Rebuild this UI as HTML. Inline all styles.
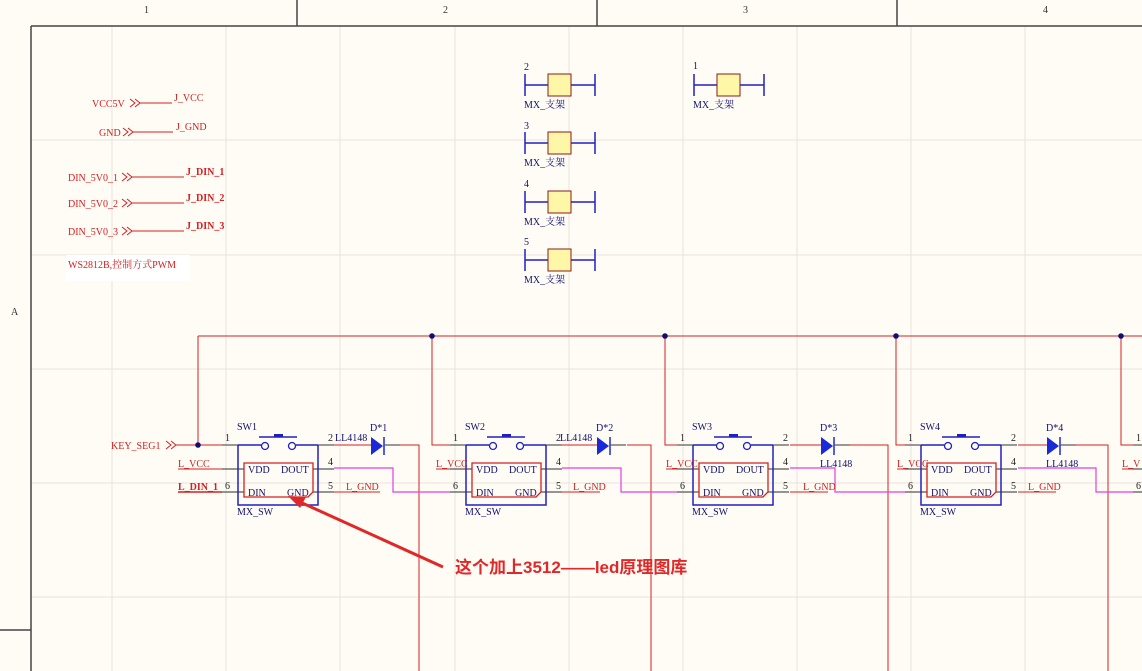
<!DOCTYPE html>
<html><head><meta charset="utf-8"><style>
html,body{margin:0;padding:0;background:#fffcf6;}
svg{display:block;}
text{font-family:"Liberation Serif","Noto Serif CJK SC","Noto Sans CJK SC",serif;font-size:10px;}
.r{fill:#d42020;}
.b{fill:#101070;}
</style></head><body>
<svg width="1142" height="671" viewBox="0 0 1142 671" xmlns="http://www.w3.org/2000/svg">
<rect width="1142" height="671" fill="#fffcf6"/>
<!-- grid -->
<g stroke="#e8e4dc" stroke-width="1">
<line x1="112" y1="26" x2="112" y2="671"/><line x1="226" y1="26" x2="226" y2="671"/><line x1="340" y1="26" x2="340" y2="671"/><line x1="455" y1="26" x2="455" y2="671"/><line x1="569" y1="26" x2="569" y2="671"/><line x1="683" y1="26" x2="683" y2="671"/><line x1="797" y1="26" x2="797" y2="671"/><line x1="911" y1="26" x2="911" y2="671"/><line x1="1025" y1="26" x2="1025" y2="671"/>
<line x1="31" y1="140" x2="1142" y2="140"/><line x1="31" y1="255" x2="1142" y2="255"/><line x1="31" y1="369" x2="1142" y2="369"/><line x1="31" y1="483" x2="1142" y2="483"/><line x1="31" y1="597" x2="1142" y2="597"/>
</g>
<!-- frame -->
<g stroke="#444" stroke-width="1.5" fill="none">
<line x1="31" y1="26" x2="1142" y2="26"/><line x1="31" y1="26" x2="31" y2="671"/><line x1="0" y1="630" x2="31" y2="630"/>
<line x1="297" y1="0" x2="297" y2="26"/><line x1="597" y1="0" x2="597" y2="26"/><line x1="897" y1="0" x2="897" y2="26"/>
</g>
<g fill="#333"><text x="144" y="13">1</text><text x="443" y="13">2</text><text x="743" y="13">3</text><text x="1043" y="13">4</text><text x="11" y="315">A</text></g>

<!-- left net labels -->
<g stroke="#d42020" fill="none" stroke-width="1">
<path d="M130,99 l5,4 l-5,4 M135,99 l5,4 l-5,4"/><line x1="140" y1="103" x2="172" y2="103"/>
<path d="M123,128 l5,4 l-5,4 M128,128 l5,4 l-5,4"/><line x1="133" y1="132" x2="173" y2="132"/>
<path d="M122,173 l5,4 l-5,4 M127,173 l5,4 l-5,4"/><line x1="132" y1="177" x2="184" y2="177"/>
<path d="M122,199 l5,4 l-5,4 M127,199 l5,4 l-5,4"/><line x1="132" y1="203" x2="184" y2="203"/>
<path d="M122,227 l5,4 l-5,4 M127,227 l5,4 l-5,4"/><line x1="132" y1="231" x2="184" y2="231"/>
</g>
<g class="r">
<text x="92" y="107">VCC5V</text><text x="174" y="101">J_VCC</text>
<text x="99" y="136">GND</text><text x="176" y="130">J_GND</text>
<text x="68" y="181">DIN_5V0_1</text><text x="186" y="175" font-weight="bold">J_DIN_1</text>
<text x="68" y="207">DIN_5V0_2</text><text x="186" y="201" font-weight="bold">J_DIN_2</text>
<text x="68" y="235">DIN_5V0_3</text><text x="186" y="229" font-weight="bold">J_DIN_3</text>
<text x="111" y="449">KEY_SEG1</text>
</g>
<rect x="66" y="255" width="124" height="26" fill="#ffffff"/>
<text x="68" y="268" class="r">WS2812B,控制方式PWM</text>

<!-- MX brackets -->
<defs>
<g id="mx">
<line x1="525" y1="74" x2="525" y2="96" stroke="#2020c0" stroke-width="1.5"/>
<line x1="525" y1="85" x2="548" y2="85" stroke="#2020c0" stroke-width="1.5"/>
<rect x="548" y="74" width="23" height="22" fill="#fff7a8" stroke="#8b1a1a" stroke-width="1"/>
<line x1="571" y1="85" x2="595" y2="85" stroke="#2020c0" stroke-width="1.5"/>
<line x1="595" y1="74" x2="595" y2="96" stroke="#2020c0" stroke-width="1.5"/>
<text x="524" y="108" class="b">MX_支架</text>
</g>
</defs>
<use href="#mx"/><use href="#mx" y="58"/><use href="#mx" y="117"/><use href="#mx" y="175"/><use href="#mx" x="169"/>
<g class="b"><text x="524" y="70">2</text><text x="524" y="129">3</text><text x="524" y="187">4</text><text x="524" y="245">5</text><text x="693" y="69">1</text></g>

<!-- bus -->
<g stroke="#d42020" stroke-width="1" fill="none">
<line x1="198" y1="336" x2="1142" y2="336"/>
<polyline points="198,336 198,445 222,445"/>
<polyline points="432,336 432,445 450,445"/>
<polyline points="665,336 665,445 677,445"/>
<polyline points="896,336 896,445 905,445"/>
<polyline points="1121,336 1121,445 1133,445"/>
<path d="M166,441 l5,4 l-5,4 M171,441 l5,4 l-5,4"/><line x1="176" y1="445" x2="198" y2="445"/>
<polyline points="400,445 419,445 419,671"/>
<polyline points="627,445 651,445 651,671"/>
<polyline points="850,445 888,445 888,671"/>
<polyline points="1076,445 1108,445 1108,671"/>
<line x1="334" y1="445" x2="371" y2="445"/><line x1="562" y1="445" x2="597" y2="445"/><line x1="790" y1="445" x2="821" y2="445"/><line x1="1018" y1="445" x2="1047" y2="445"/>
<line x1="178" y1="469" x2="222" y2="469"/><line x1="178" y1="492" x2="222" y2="492" stroke-width="1.5"/>
<line x1="334" y1="492" x2="380" y2="492"/><line x1="562" y1="492" x2="600" y2="492"/><line x1="790" y1="492" x2="828" y2="492"/><line x1="1018" y1="492" x2="1056" y2="492"/>
<line x1="436" y1="469" x2="466" y2="469"/><line x1="666" y1="469" x2="693" y2="469"/><line x1="897" y1="469" x2="921" y2="469"/><line x1="1122" y1="469" x2="1142" y2="469"/>
</g>
<g fill="#101070"><circle cx="198" cy="445" r="2.8"/><circle cx="432" cy="336" r="2.8"/><circle cx="665" cy="336" r="2.8"/><circle cx="896" cy="336" r="2.8"/><circle cx="1121" cy="336" r="2.8"/></g>
<!-- magenta -->
<g stroke="#e040e0" stroke-width="1.2" fill="none">
<polyline points="334,468 393,468 393,492 450,492"/>
<polyline points="562,468 621,468 621,492 677,492"/>
<polyline points="790,468 835,468 835,492 905,492"/>
<polyline points="1018,468 1096,468 1096,492 1133,492"/>
</g>

<defs>
<g id="sw">
<g stroke="#555" stroke-width="1.2">
<line x1="222" y1="445" x2="238" y2="445"/><line x1="318" y1="445" x2="334" y2="445"/>
<line x1="222" y1="469" x2="244" y2="469"/><line x1="222" y1="492" x2="244" y2="492"/>
<line x1="313" y1="469" x2="334" y2="469"/><line x1="313" y1="492" x2="334" y2="492"/>
</g>
<polyline points="238,445 238,505 318,505 318,445" fill="none" stroke="#2020c0" stroke-width="1.5"/>
<line x1="238" y1="445" x2="261" y2="445" stroke="#2020c0" stroke-width="1.5"/>
<line x1="296" y1="445" x2="318" y2="445" stroke="#2020c0" stroke-width="1.5"/>
<circle cx="265" cy="446" r="3.5" fill="#fffcf6" stroke="#2020c0" stroke-width="1.3"/>
<circle cx="292" cy="446" r="3.5" fill="#fffcf6" stroke="#2020c0" stroke-width="1.3"/>
<line x1="259" y1="437" x2="297" y2="437" stroke="#2020c0" stroke-width="1.5"/>
<rect x="274" y="434" width="9" height="3" fill="#2020c0"/>
<path d="M244,463 L313,463 L313,492 L308,497 L244,497 Z" fill="none" stroke="#d42020" stroke-width="1.3"/>
<g fill="#101070"><text x="248" y="473">VDD</text><text x="281" y="473">DOUT</text><text x="248" y="496">DIN</text><text x="287" y="496">GND</text>
<text x="237" y="515">MX_SW</text></g>
<g fill="#222"><text x="225" y="441">1</text><text x="328" y="441">2</text><text x="328" y="465">4</text><text x="328" y="489">5</text><text x="225" y="489">6</text></g>
</g>
<g id="d">
<path d="M0,-8 L12,1 L0,10 Z" fill="#1a2ad8"/><line x1="13" y1="-8" x2="13" y2="10" stroke="#1a2ad8" stroke-width="1.5"/>
<line x1="13" y1="0" x2="29" y2="0" stroke="#555" stroke-width="1.2"/>
</g>
</defs>
<use href="#sw"/>
<use href="#sw" x="228"/>
<use href="#sw" x="455"/>
<use href="#sw" x="683"/>
<use href="#sw" x="911"/>
<g fill="#101070"><text x="237" y="430">SW1</text><text x="465" y="430">SW2</text><text x="692" y="430">SW3</text><text x="920" y="430">SW4</text></g>
<use href="#d" x="371" y="445"/><use href="#d" x="597" y="445"/><use href="#d" x="821" y="445"/><use href="#d" x="1047" y="445"/>
<g fill="#101070">
<text x="335" y="441">LL4148</text><text x="370" y="431">D*1</text>
<text x="560" y="441">LL4148</text><text x="596" y="431">D*2</text>
<text x="820" y="467">LL4148</text><text x="820" y="431">D*3</text>
<text x="1046" y="467">LL4148</text><text x="1046" y="431">D*4</text>
</g>
<g class="r">
<text x="178" y="467">L_VCC</text><text x="178" y="490" font-weight="bold">L_DIN_1</text>
<text x="346" y="490">L_GND</text><text x="573" y="490">L_GND</text><text x="803" y="490">L_GND</text><text x="1028" y="490">L_GND</text>
<text x="436" y="467">L_VCC</text><text x="666" y="467">L_VCC</text><text x="897" y="467">L_VCC</text><text x="1122" y="467">L_V</text>
</g>
<line x1="443" y1="567" x2="300" y2="502" stroke="#e02828" stroke-width="3"/>
<path d="M288,496 L306,497 L300,508 Z" fill="#e02828"/>
<text x="455" y="573" style="font-family:'Liberation Sans','Noto Sans CJK SC',sans-serif;font-size:17px;font-weight:bold;fill:#e02828">这个加上3512——led原理图库</text>
</svg>
</body></html>
